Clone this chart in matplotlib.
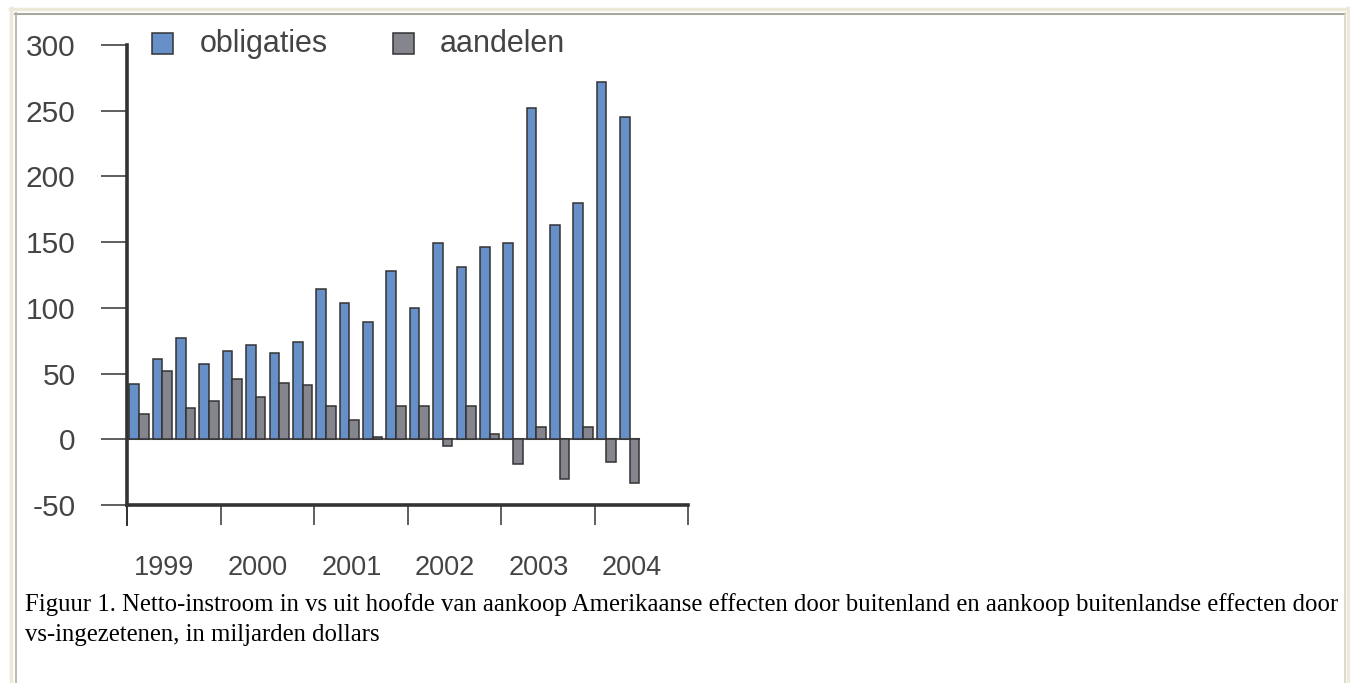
import matplotlib
matplotlib.use("Agg")
import numpy as np
import matplotlib.pyplot as plt
from matplotlib.lines import Line2D

# quarterly values 1999 Q1 .. 2004 Q2 (billions of dollars)
obligaties = [42, 61, 77, 57, 67, 72, 66, 74, 114, 104, 89, 128,
              100, 149, 131, 146, 149, 252, 163, 180, 272, 245]
aandelen = [19, 52, 24, 29, 46, 32, 43, 41, 25, 15, 2, 25,
            25, -5, 25, 4, -19, 9, -30, 9, -17, -33]
years = ["1999", "2000", "2001", "2002", "2003", "2004"]
yticks = [-50, 0, 50, 100, 150, 200, 250, 300]

W, H = 1350, 683
fig = plt.figure(figsize=(W / 100, H / 100), dpi=100)
fig.patch.set_facecolor("white")

def fx(px):
    return px / W

def fy(py):
    return 1 - py / H

# page frame
for xs, ys, c, lw in [
    ([10, 1348], [8.5, 8.5], "#ece9d8", 2.5),
    ([10.5, 10.5], [8, 683], "#ece9d8", 2.5),
    ([1347.5, 1347.5], [8, 683], "#ece9d8", 2.5),
    ([15, 1345], [13.5, 13.5], "#a8a8a0", 1.5),
    ([15.5, 15.5], [13, 683], "#b0b0a8", 1.2),
    ([1345, 1345], [13, 683], "#d8d4c4", 1.2),
]:
    fig.add_artist(Line2D([fx(x) for x in xs], [fy(y) for y in ys],
                          color=c, lw=lw))

ax = fig.add_axes([fx(127), fy(505), fx(688) - fx(127), fy(45) - fy(505)])
ax.set_xlim(0, 24)
ax.set_ylim(-50, 300)

idx = np.arange(len(obligaties))
bw = 0.41
ax.bar(idx + 0.1, obligaties, bw, align="edge", color="#6890c8",
       edgecolor="#333333", linewidth=1.1, zorder=3)
ax.bar(idx + 0.1 + bw, aandelen, bw, align="edge", color="#85868d",
       edgecolor="#333333", linewidth=1.1, zorder=3)
ax.plot([0, idx[-1] + 0.1 + 2 * bw], [0, 0], color="#555555", lw=1.5,
        zorder=2)

for s in ["top", "right"]:
    ax.spines[s].set_visible(False)
ax.spines["left"].set_linewidth(2.6)
ax.spines["left"].set_color("#333333")
ax.spines["bottom"].set_linewidth(2.6)
ax.spines["bottom"].set_color("#333333")
# y axis continues below the x axis
ax.add_line(Line2D([0, 0], [-50, -50 - 20 * 350 / 460], color="#333333",
                   lw=1.4, clip_on=False))

ax.set_yticks(yticks)
ax.set_yticklabels([str(v) for v in yticks], fontsize=21.5,
                   family=["Liberation Sans", "DejaVu Sans"], color="#444444")
ax.tick_params(axis="y", direction="out", length=19, width=1.1,
               color="#333333", pad=18)
ax.set_xticks(np.arange(0, 25, 4))
ax.set_xticklabels([])
ax.tick_params(axis="x", direction="out", length=14.5, width=1.1,
               color="#333333")

for i, y in enumerate(years):
    ax.text(4 * i + 1.6, -50 - 63 * 350 / 460, y, ha="center", va="center",
            fontsize=19.5, color="#444444",
            family=["Liberation Sans", "DejaVu Sans"])

# legend
for sx, col, lab, tx in [(152, "#6890c8", "obligaties", 200),
                         (393, "#85868d", "aandelen", 440)]:
    fig.add_artist(plt.Rectangle((fx(sx), fy(54)), fx(21), fy(33) - fy(54),
                                 facecolor=col, edgecolor="#333333", lw=1.1))
    fig.text(fx(tx), fy(44), lab, ha="left", va="center", fontsize=22,
             color="#444444", family=["Liberation Sans", "DejaVu Sans"])

cap = ("Figuur 1. Netto-instroom in vs uit hoofde van aankoop Amerikaanse "
       "effecten door buitenland en aankoop buitenlandse effecten door\n"
       "vs-ingezetenen, in miljarden dollars")
fig.text(fx(25), fy(593), cap, ha="left", va="top", fontsize=17.8,
         color="black", family=["Liberation Serif", "DejaVu Serif"],
         linespacing=1.45)

fig.savefig("out.png", dpi=100)
